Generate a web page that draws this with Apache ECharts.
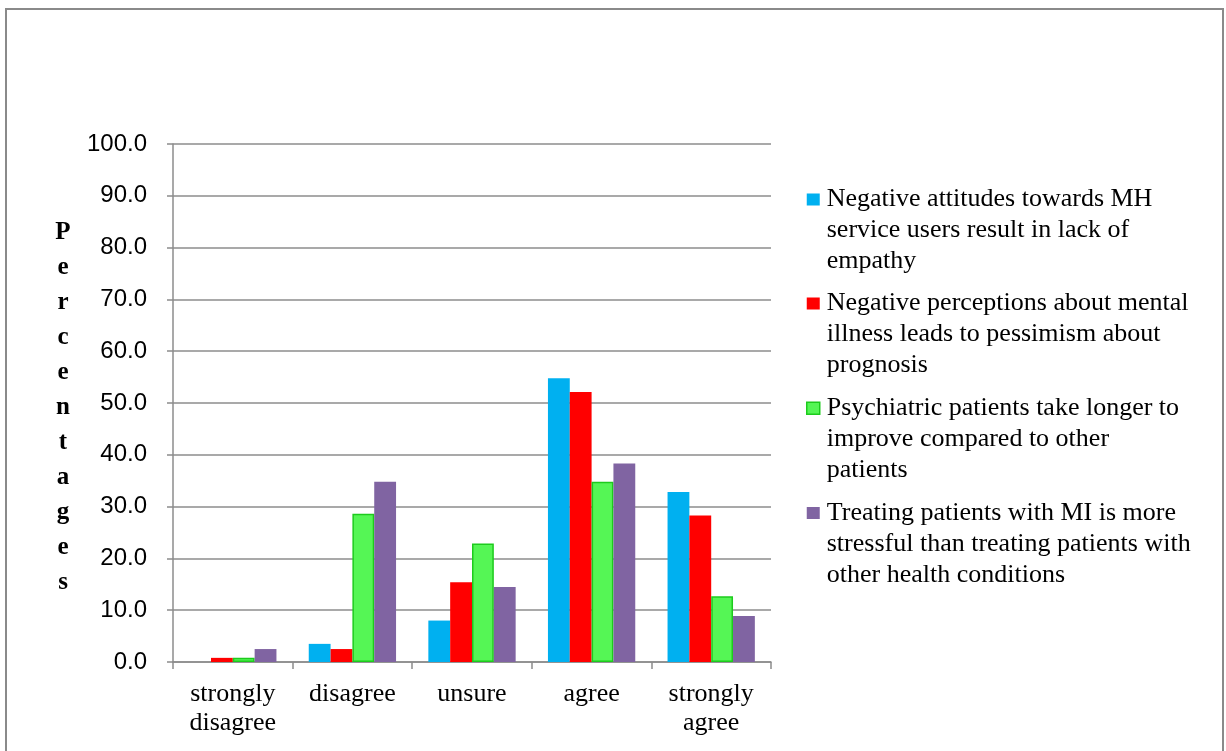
<!DOCTYPE html>
<html>
<head>
<meta charset="utf-8">
<script src="https://cdn.jsdelivr.net/npm/echarts@6/dist/echarts.min.js"></script>
<style>
  html, body { margin: 0; padding: 0; background: #fff; }
  #chart { width: 1226px; height: 751px; }
</style>
</head>
<body>
<div id="chart"></div>
<script>
// ---- data ----
var categories = ['strongly\ndisagree', 'disagree', 'unsure', 'agree', 'strongly\nagree'];
var seriesNames = [
  'Negative attitudes towards MH service users result in lack of empathy',
  'Negative perceptions about mental illness leads to pessimism about prognosis',
  'Psychiatric patients take longer to improve compared to other patients',
  'Treating patients with MI is more stressful than treating patients with other health conditions'
];
var legendLines = [
  'Negative attitudes towards MH\nservice users result in lack of\nempathy',
  'Negative perceptions about mental\nillness leads to pessimism about\nprognosis',
  'Psychiatric patients take longer to\nimprove compared to other\npatients',
  'Treating patients with MI is more\nstressful than treating patients with\nother health conditions'
];
var attitudesValues   = [0.0, 3.5, 8.0, 54.8, 32.8];
var perceptionsValues = [0.8, 2.5, 15.4, 52.1, 28.3];
var longerValues      = [0.8, 28.6, 22.9, 34.8, 12.7];
var stressfulValues   = [2.5, 34.8, 14.5, 38.3, 8.9];
var yTicks = [0, 10, 20, 30, 40, 50, 60, 70, 80, 90, 100];
var yTitle = 'Percentages';

var colors = ['#00B0F0', '#FF0000', '#55F655', '#8064A2'];
var allValues = [attitudesValues, perceptionsValues, longerValues, stressfulValues];

var chart = echarts.init(document.getElementById('chart'), null, { renderer: 'canvas' });

var series = allValues.map(function (vals, i) {
  var s = {
    name: seriesNames[i],
    type: 'bar',
    data: vals,
    barGap: '0%',
    barCategoryGap: '27%',
    itemStyle: { color: colors[i] }
  };
  if (i === 2) {
    s.itemStyle.borderColor = '#1DCB1D';
    s.itemStyle.borderWidth = 1.5;
  }
  return s;
});

// legend marker: a small square aligned with the first text line inside a tall box
var legendIcon = 'path://M0,0L0.01,0M0,9.5L13,9.5L13,21.5L0,21.5ZM15,93L15.01,93';

var option = {
  animation: false,
  backgroundColor: '#ffffff',
  color: colors,
  grid: { left: 173, right: 455, top: 144, bottom: 89, containLabel: false },
  xAxis: {
    type: 'category',
    data: categories,
    axisLine: { show: true, lineStyle: { color: '#8c8c8c', width: 1.5 } },
    axisTick: { show: true, length: 7, lineStyle: { color: '#8c8c8c', width: 1.5 } },
    axisLabel: {
      interval: 0,
      margin: 18,
      color: '#000',
      fontFamily: 'Liberation Serif',
      fontSize: 26,
      lineHeight: 29
    },
    splitLine: { show: false }
  },
  yAxis: {
    type: 'value',
    min: yTicks[0],
    max: yTicks[yTicks.length - 1],
    interval: 10,
    axisLine: { show: true, lineStyle: { color: '#8c8c8c', width: 1.5 } },
    axisTick: { show: true, inside: false, length: 6, lineStyle: { color: '#8c8c8c', width: 1.5 } },
    axisLabel: {
      margin: 26,
      color: '#000',
      fontFamily: 'Liberation Sans',
      fontSize: 24,
      formatter: function (v) { return v.toFixed(1); }
    },
    splitLine: { show: true, lineStyle: { color: '#8c8c8c', width: 1.5 } }
  },
  legend: {
    orient: 'vertical',
    left: 801,
    top: 179,
    itemWidth: 15,
    itemHeight: 93,
    itemGap: 11,
    icon: legendIcon,
    selectedMode: false,
    data: seriesNames.map(function (n, i) {
      var d = { name: n };
      if (i === 2) d.itemStyle = { borderColor: '#1DCB1D', borderWidth: 1.5 };
      return d;
    }),
    formatter: function (name) {
      return legendLines[seriesNames.indexOf(name)];
    },
    textStyle: {
      fontFamily: 'Liberation Serif',
      fontSize: 26,
      lineHeight: 31,
      color: '#000'
    }
  },
  graphic: [
    {
      type: 'rect',
      silent: true,
      shape: { x: 6, y: 9, width: 1217, height: 800 },
      style: { fill: 'none', stroke: '#8a8a8a', lineWidth: 2 }
    },
    {
      type: 'text',
      silent: true,
      x: 63,
      y: 408,
      style: {
        text: yTitle.split('').join('\n'),
        font: 'bold 25px "Liberation Serif"',
        lineHeight: 35,
        fill: '#000',
        align: 'center',
        verticalAlign: 'middle'
      }
    }
  ],
  series: series
};

chart.setOption(option);
</script>
</body>
</html>
